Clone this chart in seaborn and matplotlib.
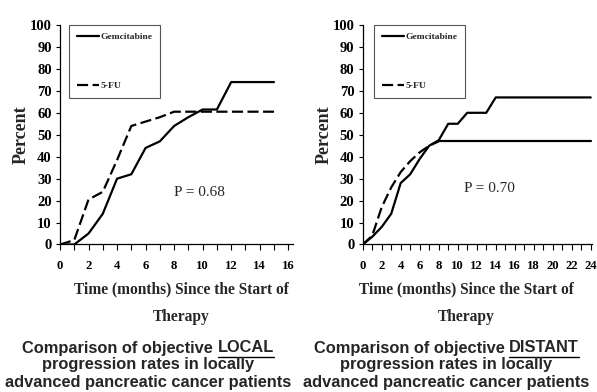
import numpy as np
import pandas as pd
import matplotlib
matplotlib.use("Agg")
import matplotlib.pyplot as plt
import seaborn as sns

# ---------------- data ----------------
local_gem_month = [0, 1, 2, 3, 4, 5, 6, 7, 8, 9, 10, 11, 12, 15]
local_gem_pct = [0, 0, 5, 14, 30, 32, 44, 47, 54, 58, 61.5, 61.5, 74, 74]
local_fu_month = [0, 1, 2, 3, 4, 5, 6, 7, 8, 15]
local_fu_pct = [0, 2, 20.5, 24, 38.5, 54, 56, 58, 60.5, 60.5]

dist_gem_month = [0, 1, 2, 3, 4, 5, 6, 7, 8, 9, 10, 11, 12, 13, 14, 24]
dist_gem_pct = [0, 3.5, 8, 14, 28, 32, 39, 45, 47.5, 55, 55, 60, 60, 60, 67, 67]
dist_fu_month = [0, 1, 2, 3, 4, 5, 6, 7, 8, 24]
dist_fu_pct = [0, 4, 17, 26, 33, 38, 42, 45, 47, 47]

series_names = ["Gemcitabine", "5-FU"]
p_values = ["P = 0.68", "P = 0.70"]
y_ticks = [0, 10, 20, 30, 40, 50, 60, 70, 80, 90, 100]
left_xticks = [0, 2, 4, 6, 8, 10, 12, 14, 16]
right_xticks = [0, 2, 4, 6, 8, 10, 12, 14, 16, 18, 20, 22, 24]
xlabel_text = "Time (months) Since the Start of\nTherapy"
ylabel_text = "Percent"
caption_left = ["Comparison of objective ", "LOCAL",
                "progression rates in locally",
                "advanced pancreatic cancer patients"]
caption_right = ["Comparison of objective ", "DISTANT",
                 "progression rates in locally",
                 "advanced pancreatic cancer patients"]

# ---------------- style ----------------
sns.set_theme(style="white")
plt.rcParams["font.family"] = ["Liberation Serif", "DejaVu Serif"]

W, H = 597, 392
fig = plt.figure(figsize=(W / 100, H / 100), dpi=100)


def frac_x(px):
    return px / W


def frac_y(px):
    return 1 - px / H


SERIF = "Liberation Serif"
SANS = "Liberation Sans"


def make_df(gm, gp, fm, fp):
    return pd.DataFrame({
        "month": list(gm) + list(fm),
        "percent": list(gp) + list(fp),
        "drug": [series_names[0]] * len(gm) + [series_names[1]] * len(fm),
    })


def draw_panel(ax, df, xmax, xticks, ptext, ppos, leg_x, solid_tail_from=None):
    main = df
    if solid_tail_from is not None:
        is_fu = df["drug"] == series_names[1]
        main = df[~is_fu | (df["month"] <= solid_tail_from)]
    sns.lineplot(data=main, x="month", y="percent", style="drug",
                 dashes={series_names[0]: "", series_names[1]: (5, 2)},
                 color="black", linewidth=1.6, ax=ax, legend=True,
                 estimator=None, sort=False)
    if solid_tail_from is not None:
        tail = df[(df["drug"] == series_names[1]) & (df["month"] >= solid_tail_from)]
        sns.lineplot(data=tail, x="month", y="percent", color="black",
                     linewidth=1.6, ax=ax, legend=False, estimator=None)
    ax.set_xlim(0, xmax)
    ax.set_ylim(0, 100)
    ax.set_yticks(y_ticks)
    ax.set_yticklabels([str(v) for v in y_ticks], fontfamily=SERIF,
                       fontweight="bold", fontsize=10.5)
    ax.set_xticks(xticks)
    ax.set_xticklabels([str(v) for v in xticks], fontfamily=SERIF,
                       fontweight="bold", fontsize=9.2)
    ax.set_xticks(np.arange(1, xticks[-1], 2), minor=True)
    ax.tick_params(axis="y", which="both", left=True, length=3, width=0.8,
                   pad=3, colors="black")
    ax.tick_params(axis="x", which="both", bottom=True, length=4, width=0.8,
                   pad=7, colors="black")
    for s in ["top", "right"]:
        ax.spines[s].set_visible(False)
    for s in ["left", "bottom"]:
        ax.spines[s].set_color("black")
        ax.spines[s].set_linewidth(0.9)
    ax.set_xlabel("")
    ax.set_ylabel(ylabel_text, fontfamily=SERIF, fontweight="bold",
                  fontsize=13, labelpad=0)
    ax.text(ppos[0], ppos[1], ptext, fontfamily=SERIF, fontsize=11,
            ha="center", va="center")
    handles, labels = ax.get_legend_handles_labels()
    leg = ax.legend(handles[:2], labels[:2], loc="upper left",
                    bbox_to_anchor=(leg_x, 1.0), borderaxespad=0,
                    frameon=True,
                    fancybox=False, edgecolor="#555555", framealpha=1,
                    handlelength=2.4, handletextpad=0.12, borderpad=0.8,
                    labelspacing=4.3,
                    prop={"family": SERIF, "weight": "bold", "size": 6.8})
    leg.get_frame().set_linewidth(0.8)
    return ax


ax1 = fig.add_axes([frac_x(60), 1 - 244.5 / H, 232.5 / W, 219.5 / H])
draw_panel(ax1, make_df(local_gem_month, local_gem_pct, local_fu_month, local_fu_pct),
           16.3, left_xticks, p_values[0], (9.8, 23.5), 9 / 232.5)

ax2 = fig.add_axes([frac_x(362.7), 1 - 244.5 / H, 229.0 / W, 219.5 / H])
draw_panel(ax2, make_df(dist_gem_month, dist_gem_pct, dist_fu_month, dist_fu_pct),
           24.1, right_xticks, p_values[1], (13.3, 25.6), 11.5 / 229.0,
           solid_tail_from=8)

# x labels
for cx in (181, 466):
    fig.text(frac_x(cx), frac_y(303), xlabel_text, fontfamily=SERIF,
             fontweight="bold", fontsize=11.2, ha="center", va="center",
             linespacing=1.95)

# captions
fig.canvas.draw()
renderer = fig.canvas.get_renderer()
for cx, cap in ((148, caption_left), (446, caption_right)):
    kw = dict(fontfamily=SANS, fontweight="bold", fontsize=11.8, va="center")
    t1 = fig.text(0, frac_y(348), cap[0], **kw)
    t2 = fig.text(0, frac_y(348), cap[1], **kw)
    w1 = t1.get_window_extent(renderer).width
    w2 = t2.get_window_extent(renderer).width
    x0 = cx - (w1 + w2) / 2
    t1.set_x(frac_x(x0))
    t2.set_x(frac_x(x0 + w1))
    fig.add_artist(plt.Line2D([frac_x(x0 + w1), frac_x(x0 + w1 + w2)],
                              [frac_y(356.5), frac_y(356.5)], color="black",
                              linewidth=1.0, transform=fig.transFigure))
    fig.text(frac_x(cx), frac_y(365), cap[2], ha="center", **kw)
    fig.text(frac_x(cx), frac_y(382), cap[3], ha="center", **kw)

fig.savefig("out.png", dpi=100, facecolor="white")
